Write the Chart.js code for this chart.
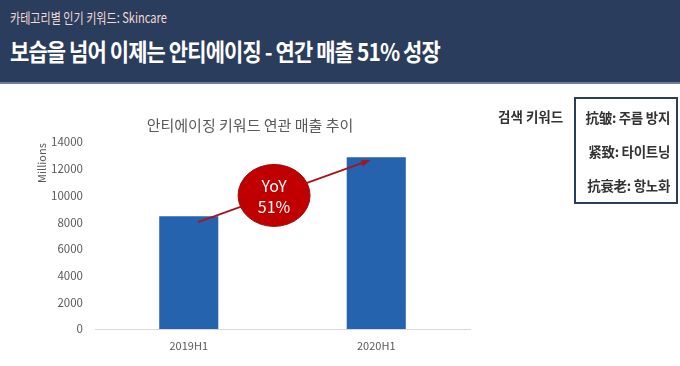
<!DOCTYPE html>
<html><head><meta charset="utf-8">
<script src="https://cdn.jsdelivr.net/npm/chart.js@4"></script>
<style>
html,body{margin:0;padding:0;width:680px;height:366px;overflow:hidden;background:#fff;font-family:"Noto Sans CJK KR","Noto Sans",sans-serif;}
#hdr{position:absolute;left:0;top:0;width:680px;height:82px;background:#2b3d5c;border-bottom:2px solid #6d7d93;}
#sub{position:absolute;left:10px;top:7px;font-size:14px;color:#f1d9d4;white-space:nowrap;transform:scaleX(0.79);transform-origin:left center;}
#ttl{position:absolute;left:10px;top:33px;font-size:24px;font-weight:bold;color:#fff;letter-spacing:-1px;white-space:nowrap;transform:scaleX(0.873);transform-origin:left center;}
#wrap{position:absolute;left:0;top:0;width:680px;height:366px;}
#kwl{position:absolute;left:498px;top:106px;font-size:13.5px;font-weight:bold;color:#333;white-space:nowrap;}
#box{position:absolute;left:574px;top:97px;width:100px;height:103px;border:2px solid #2b3d5c;}
.kw{position:absolute;right:6px;font-size:13.5px;font-weight:bold;color:#333;white-space:nowrap;letter-spacing:-0.3px;}
</style></head><body>
<div id="wrap"><canvas id="c" width="680" height="366"></canvas></div>
<div id="hdr"><div id="sub">카테고리별 인기 키워드: Skincare</div><div id="ttl">보습을 넘어 이제는 안티에이징 - 연간 매출 51% 성장</div></div>
<div id="kwl">검색 키워드</div>
<div id="box"><div class="kw" style="top:8px">抗皱: 주름 방지</div><div class="kw" style="top:42px">紧致: 타이트닝</div><div class="kw" style="top:76px">抗衰老: 항노화</div></div>
<script>
const categories = ["2019H1", "2020H1"];
const sales = [8450, 12850];
const yTicks = [0, 2000, 4000, 6000, 8000, 10000, 12000, 14000];
const chartTitle = "안티에이징 키워드 연관 매출 추이";
const axisTitle = "Millions";
const yoyLabel = ["YoY", "51%"];
const arrowFrom = [0.05, 8000];
const arrowTo = [0.96, 12600];
const bubbleAt = [0.455, 10000];

const overlay = {
  id: 'overlay',
  afterDatasetsDraw(chart) {
    const ctx = chart.ctx, xs = chart.scales.x, ys = chart.scales.y;
    const px = v => xs.getPixelForValue(0) + (xs.getPixelForValue(1) - xs.getPixelForValue(0)) * v;
    const x1 = px(arrowFrom[0]), y1 = ys.getPixelForValue(arrowFrom[1]);
    const x2 = px(arrowTo[0]), y2 = ys.getPixelForValue(arrowTo[1]);
    ctx.save();
    ctx.strokeStyle = '#a3161f'; ctx.fillStyle = '#a3161f'; ctx.lineWidth = 1.8;
    ctx.beginPath(); ctx.moveTo(x1, y1); ctx.lineTo(x2, y2); ctx.stroke();
    const a = Math.atan2(y2 - y1, x2 - x1), L = 8;
    ctx.beginPath(); ctx.moveTo(x2 + 2*Math.cos(a), y2 + 2*Math.sin(a));
    ctx.lineTo(x2 - L*Math.cos(a - 0.4), y2 - L*Math.sin(a - 0.4));
    ctx.lineTo(x2 - L*Math.cos(a + 0.4), y2 - L*Math.sin(a + 0.4));
    ctx.closePath(); ctx.fill();
    const cx = px(bubbleAt[0]), cy = ys.getPixelForValue(bubbleAt[1]);
    ctx.beginPath(); ctx.ellipse(cx, cy, 36, 31, 0, 0, Math.PI*2);
    ctx.fillStyle = '#c00000'; ctx.fill();
    ctx.strokeStyle = '#9e0c0c'; ctx.lineWidth = 1; ctx.stroke();
    ctx.fillStyle = '#fff'; ctx.font = '16px "Noto Sans CJK KR", "Noto Sans", sans-serif';
    ctx.textAlign = 'center'; ctx.textBaseline = 'middle';
    ctx.fillText(yoyLabel[0], cx, cy - 10);
    ctx.fillText(yoyLabel[1], cx, cy + 11);
    ctx.translate(42, 163); ctx.rotate(-Math.PI/2);
    ctx.fillStyle = '#595959'; ctx.font = '11px "Noto Sans CJK KR", "Noto Sans", sans-serif';
    ctx.fillText(axisTitle, 0, 0);
    ctx.restore();
  }
};

new Chart(document.getElementById('c'), {
  type: 'bar',
  data: { labels: categories, datasets: [{ data: sales, backgroundColor: '#2563ae', barPercentage: 0.315, categoryPercentage: 1 }] },
  options: {
    responsive: false, animation: false, devicePixelRatio: 1,
    layout: { padding: { left: 30, right: 210, top: 100, bottom: 0 } },
    plugins: {
      legend: { display: false }, tooltip: { enabled: false },
      title: { display: true, text: chartTitle, color: '#595959', font: { family: '"Noto Sans CJK KR", "Noto Sans", sans-serif', size: 15, weight: 'normal' }, padding: { top: 16, bottom: 8 } }
    },
    scales: {
      x: {
        grid: { display: false, drawTicks: false },
        border: { display: true, color: '#d9d9d9', width: 1 },
        ticks: { color: '#595959', font: { family: '"Noto Sans CJK KR", "Noto Sans", sans-serif', size: 11 }, padding: 10 },
        afterFit: s => { s.height = 37; }
      },
      y: {
        min: 0, max: 14000,
        afterBuildTicks: s => { s.ticks = yTicks.map(v => ({ value: v })); },
        grid: { display: false, drawTicks: false },
        border: { display: false },
        ticks: { color: '#595959', font: { family: '"Noto Sans CJK KR", "Noto Sans", sans-serif', size: 11.5 }, padding: 12, callback: v => String(v) },
        afterFit: s => { s.width = 65; }
      }
    }
  },
  plugins: [overlay]
});
</script>
</body></html>
